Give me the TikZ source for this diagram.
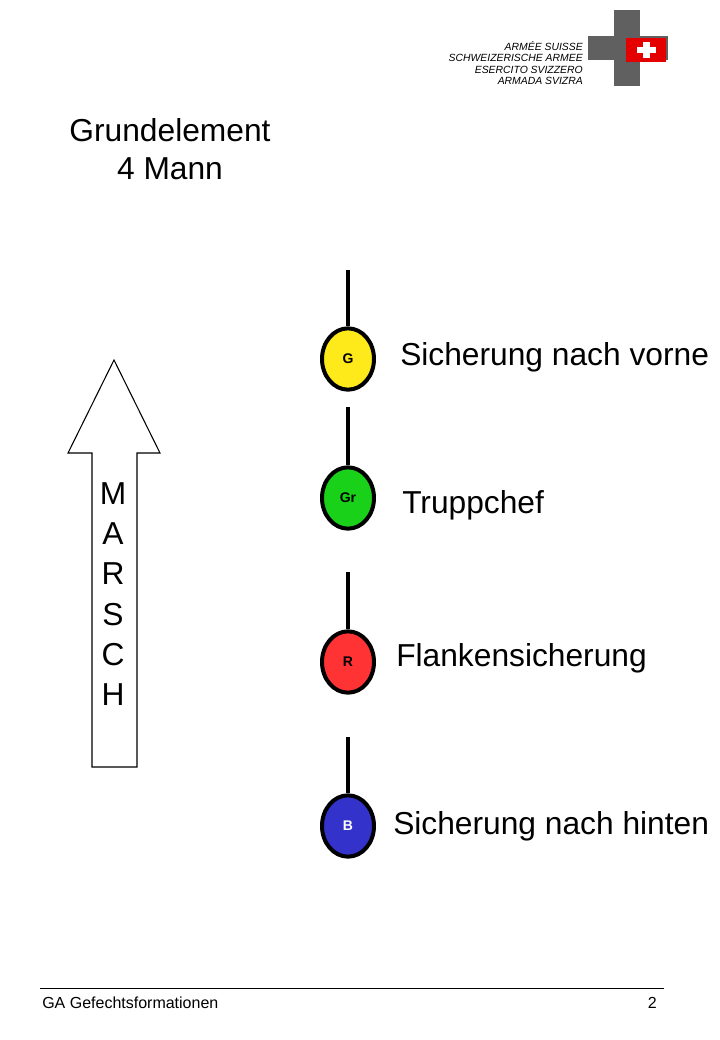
\documentclass[tikz,border=0pt]{standalone}
\usepackage{fontspec}
\usetikzlibrary{shapes.geometric}
\setmainfont{Liberation Sans}
\begin{document}
\begin{tikzpicture}[x=0.75pt,y=-0.75pt,
  man/.style={draw=black,line width=3pt,ellipse,minimum width=39pt,minimum height=46pt,inner sep=0pt,font=\bfseries\fontsize{10.5}{12}\selectfont},
  big/.style={font=\fontsize{23.8}{28}\selectfont,inner sep=0pt},
  stem/.style={line width=3pt}]
\useasboundingbox (0,0) rectangle (720,1040);
% logo
\fill[gray!75!black] (614,10) rectangle (640,86);
\fill[gray!75!black] (588,36) rectangle (668,60);
\fill[red!90!black] (626,38) rectangle (666,62);
\fill[white] (643,42) rectangle (650,58);
\fill[white] (637,47) rectangle (656,53);
\node[anchor=east,align=right,inner sep=0pt,font=\itshape\fontsize{7.8}{8.4}\selectfont] (logo) at (583,63) {ARMÉE SUISSE\\SCHWEIZERISCHE ARMEE\\ESERCITO SVIZZERO\\ARMADA SVIZRA};
% title
\node[big,align=center,font=\fontsize{23.8}{28.5}\selectfont] (title) at (170,149) {Grundelement\\4 Mann};
% men
\node[man,fill=yellow!90!orange!90] (g) at (348,359) {G};
\node[man,fill=green!80!black!90!white] (gr) at (348,498) {Gr};
\node[man,fill=red!80!white] (r) at (348,662) {R};
\node[man,fill=blue!75!black!80!white,text=white] (b) at (348,826) {B};
\coordinate (g0) at (348,270); \coordinate (gr0) at (348,407);
\coordinate (r0) at (348,572); \coordinate (b0) at (348,737);
\draw[stem] (g0) -- (g.north);
\draw[stem] (gr0) -- (gr.north);
\draw[stem] (r0) -- (r.north);
\draw[stem] (b0) -- (b.north);
\node[big,anchor=west] (lg) at (400,357) {Sicherung nach vorne};
\node[big,anchor=west] (lgr) at (402,505) {Truppchef};
\node[big,anchor=west] (lr) at (396,658) {Flankensicherung};
\node[big,anchor=west] (lb) at (393,826) {Sicherung nach hinten};
% arrow
\draw[line width=0.8pt,fill=white] (114,360) -- (160,453) -- (137,453) -- (137,767) -- (92,767) -- (92,453) -- (68,453) -- cycle;
\node[big,align=center,font=\fontsize{23.8}{30.2}\selectfont] (marsch) at (113,594) {M\\A\\R\\S\\C\\H};
% footer
\coordinate (f1) at (40,988); \coordinate (f2) at (664,988);
\draw[line width=0.6pt] (f1) -- (f2);
\node[anchor=west,inner sep=0pt,font=\fontsize{12}{14}\selectfont] (ft) at (42,1003) {GA Gefechtsformationen};
\node[anchor=east,inner sep=0pt,font=\fontsize{12}{14}\selectfont] (pg) at (657,1003) {2};
\end{tikzpicture}
\end{document}
